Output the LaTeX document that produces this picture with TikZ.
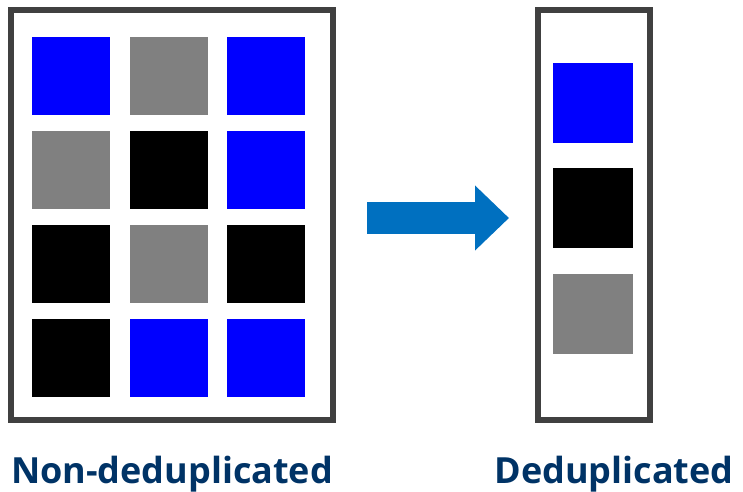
\documentclass[tikz,border=0pt]{standalone}
\usepackage{fontspec}
\newfontfamily\labelfont{Open Sans}
\usepackage{xcolor}
\usepackage{tikz}
\usetikzlibrary{arrows.meta, calc, positioning}
\definecolor{boxgray}{RGB}{64,64,64}
\definecolor{arrowblue}{RGB}{0,112,192}
\definecolor{labelnavy}{RGB}{0,51,102}
\tikzset{
    frame/.style = {draw=boxgray, line width=6pt, fill=white, inner sep=0pt},
    lcell/.style = {fill=#1, minimum size=78pt, inner sep=0pt},
    rcell/.style = {fill=#1, minimum size=80pt, inner sep=0pt},
    bigarrow/.style = {arrowblue, line width=32pt, -{Triangle[length=34pt, width=63pt]}},
    caption/.style = {text=labelnavy, font=\labelfont\bfseries\fontsize{36}{40}\selectfont, anchor=base, inner sep=0pt},
}

\begin{document}
\begin{tikzpicture}[x=1pt, y=-1pt]
\useasboundingbox (0,0) rectangle (743,491);

\node[frame, minimum width=322pt, minimum height=410pt] (ND) at (172,215) {};
\node[frame, minimum width=112pt, minimum height=410pt] (D) at (594,215) {};

\node[lcell=blue] (A1) at (71,76) {};
\node[lcell=gray] (A2) at (169,76) {};
\node[lcell=blue] (A3) at (265.5,76) {};
\node[lcell=gray] (B1) at (71,170) {};
\node[lcell=black] (B2) at (169,170) {};
\node[lcell=blue] (B3) at (265.5,170) {};
\node[lcell=black] (C1) at (71,264) {};
\node[lcell=gray] (C2) at (169,264) {};
\node[lcell=black] (C3) at (265.5,264) {};
\node[lcell=black] (E1) at (71,358) {};
\node[lcell=blue] (E2) at (169,358) {};
\node[lcell=blue] (E3) at (265.5,358) {};

\node[rcell=blue] (R1) at (593,102.5) {};
\node[rcell=black] (R2) at (593,208) {};
\node[rcell=gray] (R3) at (593,314) {};

\draw[bigarrow] ($(ND.east)+(31,3)$) -- ($(D.west)+(-26,3)$);

\node[caption] (NDlabel) at ($(ND.south)+(0,60)$) {Non-deduplicated};
\node[caption] (Dlabel) at ($(D.south)+(20,60)$) {Deduplicated};
\end{tikzpicture}
\end{document}
